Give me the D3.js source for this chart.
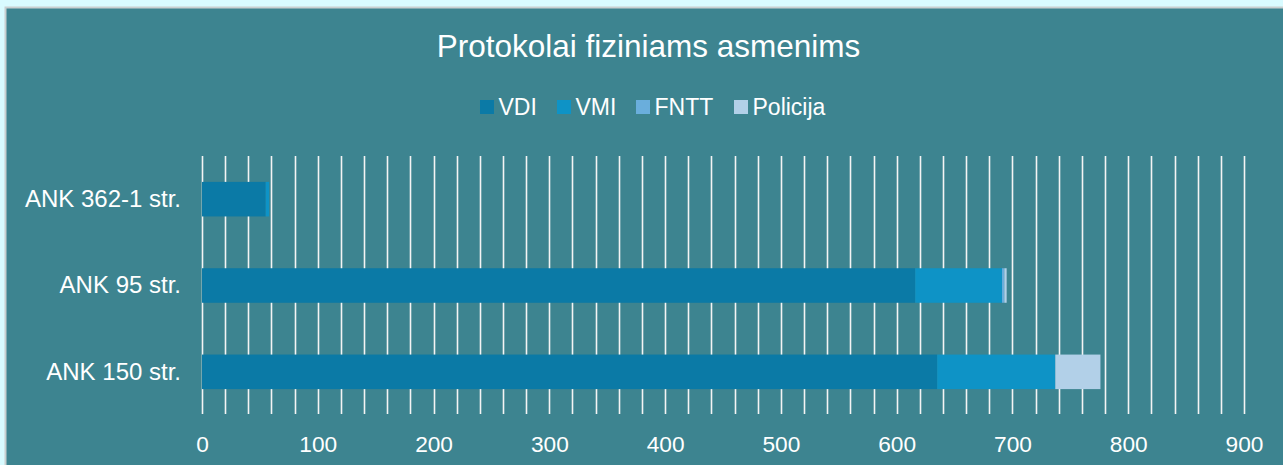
<!DOCTYPE html>
<html>
  <head>
    <meta charset=utf-8>
    <title>Protokolai fiziniams asmenims</title>
    <style>
      body{ margin:0; background:#d9fbff; }
      text{ font-family:"Liberation Sans", Arial, sans-serif; fill:#fff; }
    </style>
  </head>
  <body>
    <script src="https://d3js.org/d3.v7.min.js"></script>
    <script>
      var categories = ["ANK 362-1 str.", "ANK 95 str.", "ANK 150 str."];
      var seriesNames = ["VDI", "VMI", "FNTT", "Policija"];
      var vdi = [55, 616, 635];
      var vmi = [3, 75, 102];
      var fntt = [0, 2, 0];
      var policija = [0, 2, 39];
      var xTicks = [0, 100, 200, 300, 400, 500, 600, 700, 800, 900];

      var colors = ["#0b7aa6", "#0e93c6", "#6aaedc", "#b2d0e8"];

      var width = 1283, height = 465;
      var margin = {top: 156, right: 39, bottom: 50, left: 202};

      var svg = d3.select("body").append("svg")
        .attr("width", width)
        .attr("height", height)
        .style("display", "block");

      // chart frame
      svg.append("rect")
        .attr("x", 5.5).attr("y", 7.5)
        .attr("width", width).attr("height", height)
        .style("fill", "#3d8490")
        .style("stroke", "#c9cfd0")
        .style("stroke-width", 2);

      var table = categories.map(function(c, i) {
        return {cat: c, VDI: vdi[i], VMI: vmi[i], FNTT: fntt[i], Policija: policija[i]};
      });

      var x = d3.scaleLinear().domain([0, 900])
        .range([margin.left, width - margin.right]);

      var y = d3.scaleBand().domain(categories)
        .range([margin.top, height - margin.bottom])
        .paddingInner(0.6).paddingOuter(0.3);

      // vertical gridlines every 20
      svg.append("g").selectAll("line")
        .data(d3.range(0, 901, 20)).enter()
        .append("line")
          .attr("x1", function(d) { return Math.round(x(d)) + 0.5; })
          .attr("x2", function(d) { return Math.round(x(d)) + 0.5; })
          .attr("y1", margin.top)
          .attr("y2", height - margin.bottom - 1)
          .style("stroke", "#f4f4f4")
          .style("stroke-width", 1.6);

      var stacked = d3.stack().keys(seriesNames)(table);

      svg.append("g").selectAll("g")
        .data(stacked).enter()
        .append("g")
          .style("fill", function(d, i) { return colors[i]; })
        .selectAll("rect")
        .data(function(d) { return d; }).enter()
        .append("rect")
          .attr("x", function(d) { return x(d[0]); })
          .attr("y", function(d) { return y(d.data.cat); })
          .attr("width", function(d) { return x(d[1]) - x(d[0]); })
          .attr("height", y.bandwidth());

      // x axis labels
      var xAxis = d3.axisBottom(x).tickValues(xTicks).tickSize(0).tickPadding(20.5);
      var gx = svg.append("g")
        .attr("transform", "translate(0," + (height - margin.bottom) + ")")
        .call(xAxis);
      gx.select(".domain").remove();
      gx.selectAll("text").style("font-size", "22.7px").style("fill", "#fff")
        .style("font-family", "Liberation Sans, Arial, sans-serif");

      // y axis labels
      var yAxis = d3.axisLeft(y).tickSize(0).tickPadding(21);
      var gy = svg.append("g")
        .attr("transform", "translate(" + margin.left + ",0)")
        .call(yAxis);
      gy.select(".domain").remove();
      gy.selectAll("text").style("font-size", "24px").style("fill", "#fff")
        .style("font-family", "Liberation Sans, Arial, sans-serif");

      // title
      svg.append("text")
        .attr("x", 648.5).attr("y", 57)
        .attr("text-anchor", "middle")
        .style("font-size", "31.5px")
        .text("Protokolai fiziniams asmenims");

      // legend
      var legendX = [480, 557, 636, 734];
      var legend = svg.append("g").selectAll("g")
        .data(seriesNames).enter()
        .append("g")
          .attr("transform", function(d, i) { return "translate(" + legendX[i] + ",107)"; });
      legend.append("rect")
        .attr("x", 0).attr("y", -7)
        .attr("width", 14).attr("height", 14)
        .style("fill", function(d, i) { return colors[i]; });
      legend.append("text")
        .attr("x", 18.5).attr("y", 7.5)
        .style("font-size", "23px")
        .text(function(d) { return d; });
    </script>
  </body>
</html>
